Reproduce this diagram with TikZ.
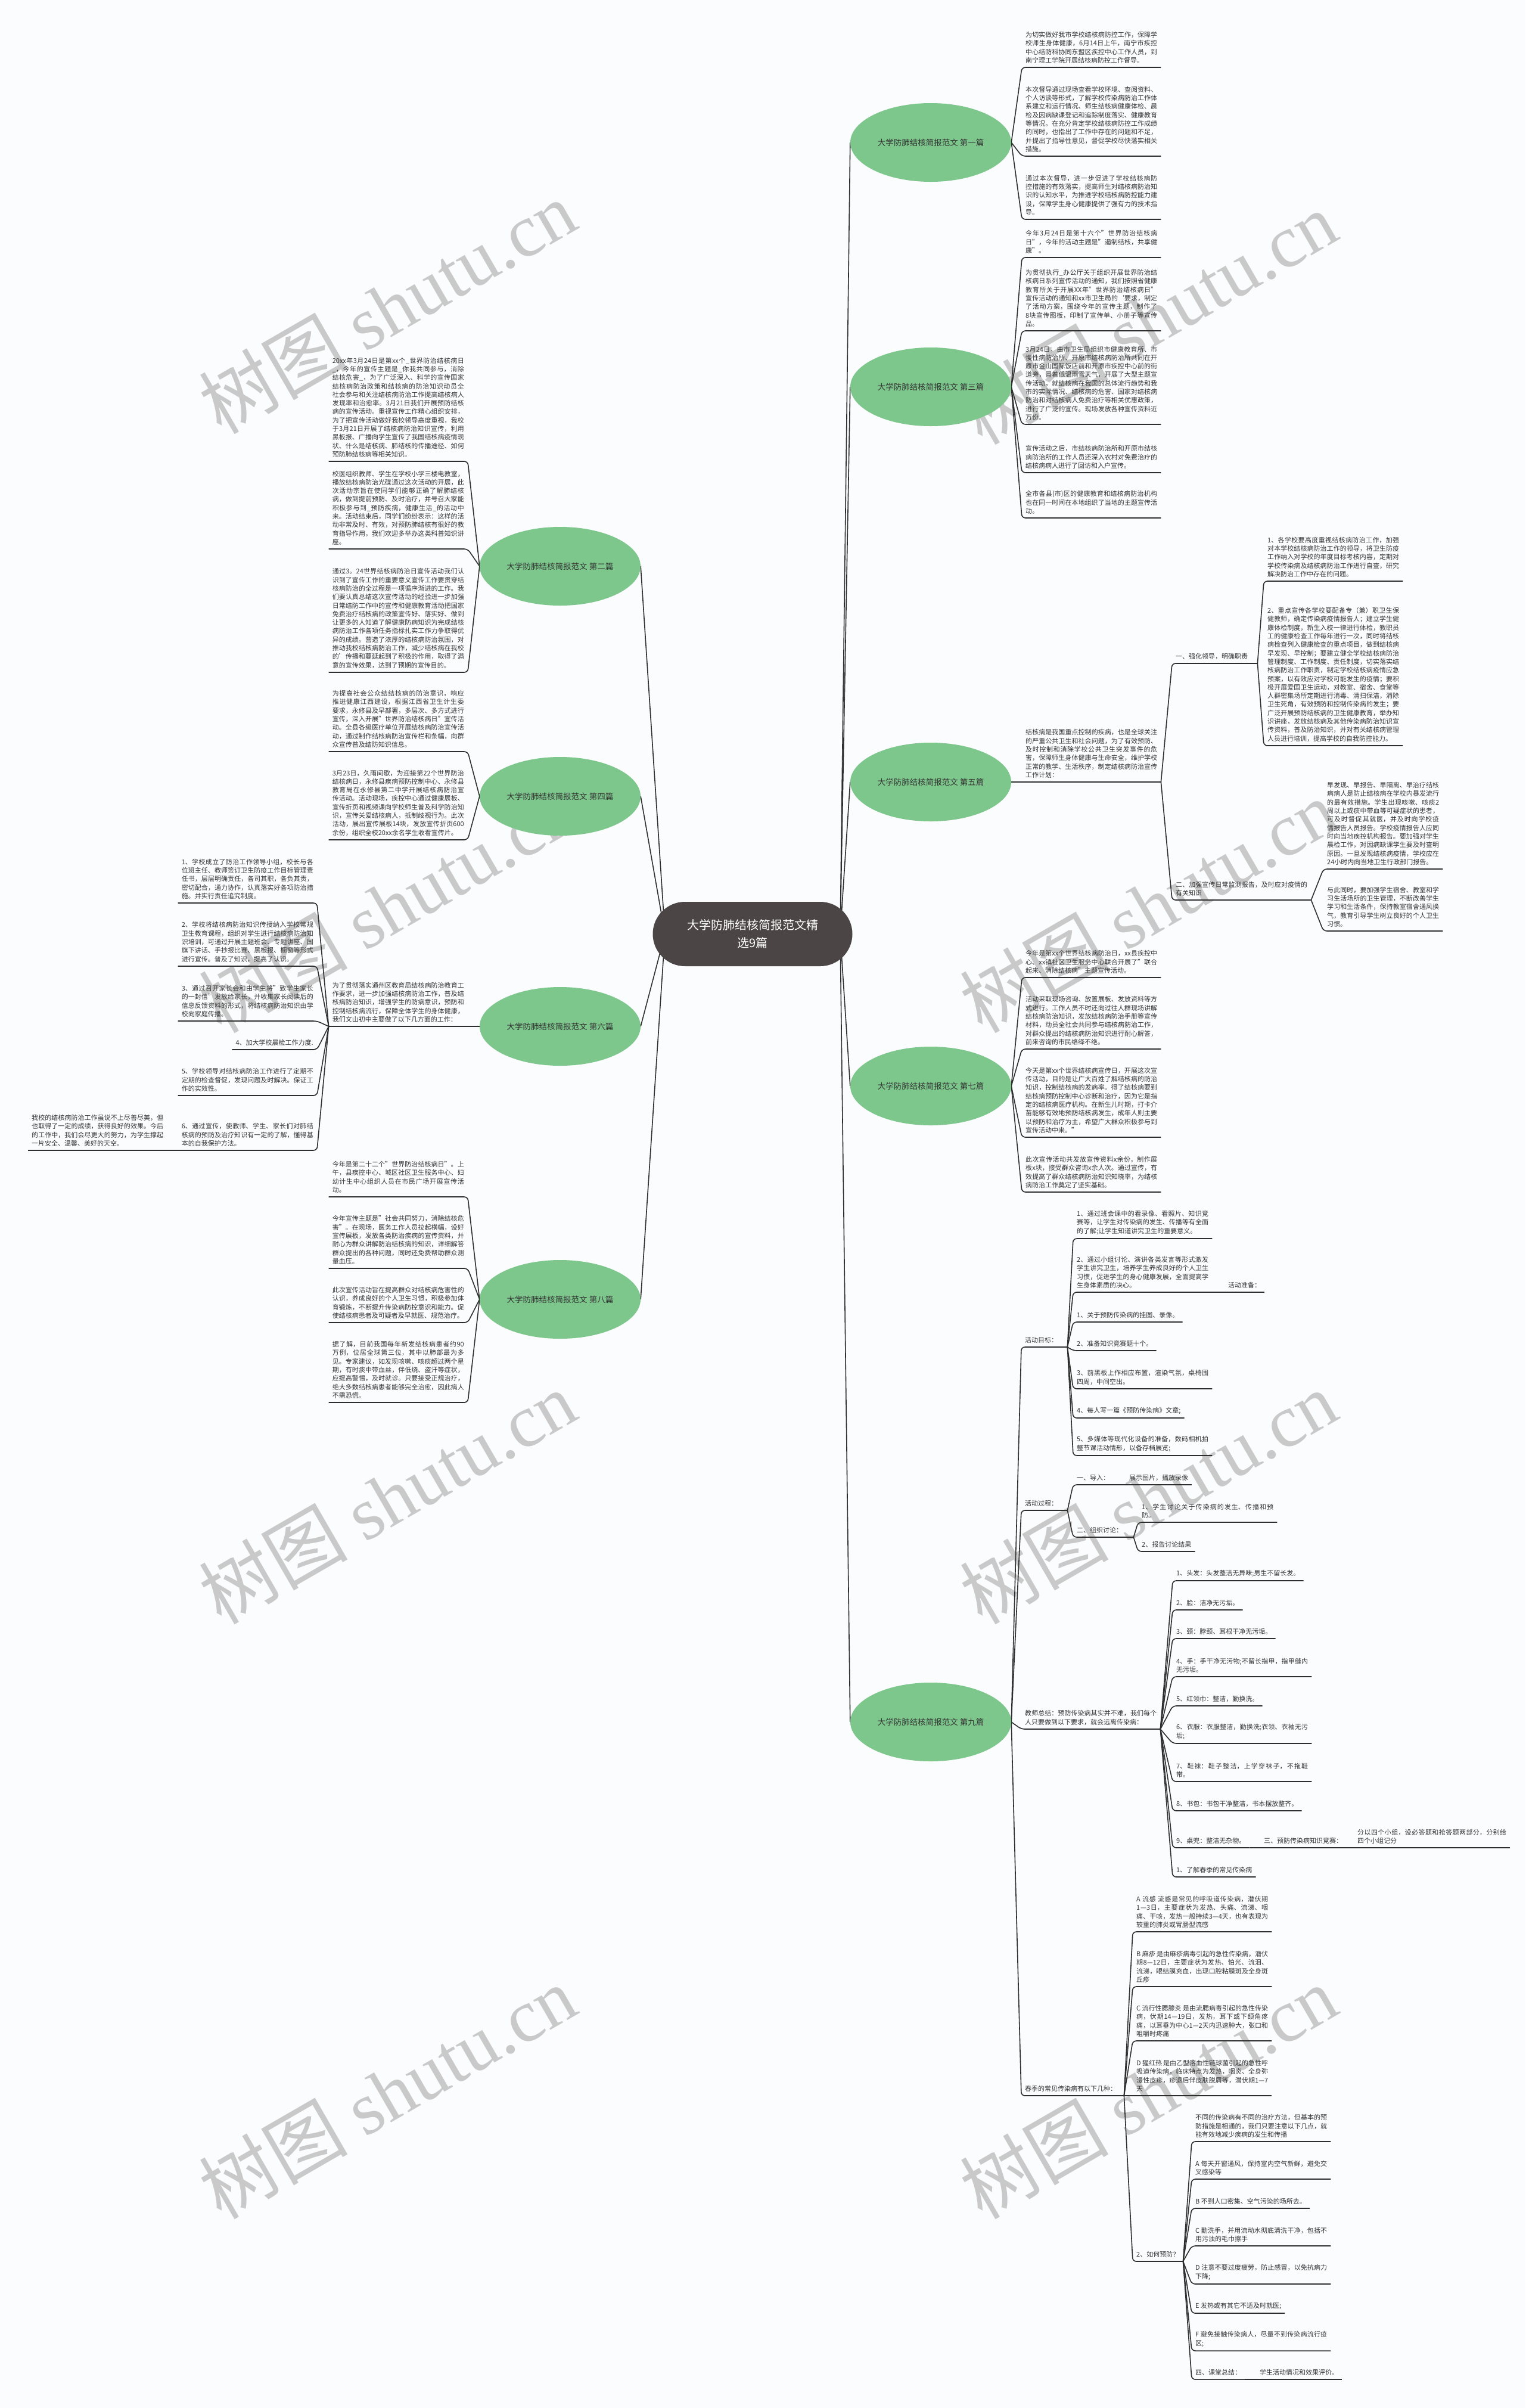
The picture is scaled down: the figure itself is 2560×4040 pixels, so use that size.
\documentclass[tikz,border=0pt]{standalone}
\usepackage{fontspec}
\setmainfont{Noto Sans CJK SC}
\newfontfamily\markSerif{Liberation Serif}
\usetikzlibrary{shapes.geometric, backgrounds}
\XeTeXlinebreaklocale "zh"
\XeTeXlinebreakskip=0pt plus 1pt
\definecolor{pageBg}{HTML}{FAFCFD}
\definecolor{rootFill}{HTML}{4B4545}
\definecolor{branchFill}{HTML}{7DC78C}
\definecolor{lineGray}{HTML}{2E2E2E}
\definecolor{textGray}{HTML}{333333}
\definecolor{markGray}{HTML}{C9C9C9}
\newcommand{\leafFont}{\fontsize{11pt}{14.3pt}\selectfont}
\tikzset{
  rootNode/.style={
    rectangle,
    rounded corners=54pt,
    fill=rootFill,
    minimum width=335pt,
    minimum height=108pt,
    align=center,
    text=white,
    font=\fontsize{20pt}{30pt}\selectfont
  },
  branchNode/.style={
    ellipse,
    fill=branchFill,
    minimum width=270pt,
    minimum height=132pt,
    inner sep=0pt,
    text=textGray,
    font=\fontsize{13.5pt}{16pt}\selectfont
  },
  leafText/.style={
    text width=221pt,
    align=justify,
    inner xsep=6pt,
    inner ysep=6.5pt,
    text=textGray,
    font=\leafFont
  },
  shortText/.style={
    inner xsep=6pt,
    inner ysep=6.5pt,
    text=textGray,
    font=\leafFont
  },
  link/.style={
    draw=lineGray,
    line width=1.6pt,
    rounded corners=6pt
  },
  markText/.style={
    text=markGray,
    rotate=30,
    font=\fontsize{125pt}{125pt}\selectfont
  }
}

\begin{document}
\begin{tikzpicture}[x=1pt, y=-1pt]
  \useasboundingbox (0,0) rectangle (2560,4040);
  % centre and the nine branches
  \node[rootNode] (root) at (1263,1567) {大学防肺结核简报范文精\\选9篇};
  \coordinate (rootR) at (1410,1567);
  \coordinate (rootL) at (1116,1567);
  \node[branchNode] (b1) at (1562,239) {大学防肺结核简报范文 第一篇};
  \node[branchNode] (b3) at (1562,649) {大学防肺结核简报范文 第三篇};
  \node[branchNode] (b5) at (1562,1312) {大学防肺结核简报范文 第五篇};
  \node[branchNode] (b7) at (1562,1822) {大学防肺结核简报范文 第七篇};
  \node[branchNode] (b9) at (1562,2889) {大学防肺结核简报范文 第九篇};
  \node[branchNode] (b2) at (940,950) {大学防肺结核简报范文 第二篇};
  \node[branchNode] (b4) at (940,1336) {大学防肺结核简报范文 第四篇};
  \node[branchNode] (b6) at (940,1722) {大学防肺结核简报范文 第六篇};
  \node[branchNode] (b8) at (940,2180) {大学防肺结核简报范文 第八篇};

  % first
  \node[leafText, anchor=south west] (p1t1) at (1715,113) {为切实做好我市学校结核病防控工作，保障学校师生身体健康，6月14日上午，南宁市疾控中心结防科协同东盟区疾控中心工作人员，到南宁理工学院开展结核病防控工作督导。};
  \node[leafText, anchor=south west] (p1t2) at (1715,262) {本次督导通过现场查看学校环境、查阅资料、个人访谈等形式，了解学校传染病防治工作体系建立和运行情况、师生结核病健康体检、晨检及因病缺课登记和追踪制度落实、健康教育等情况。在充分肯定学校结核病防控工作成绩的同时，也指出了工作中存在的问题和不足，并提出了指导性意见，督促学校尽快落实相关措施。};
  \node[leafText, anchor=south west] (p1t3) at (1715,368) {通过本次督导，进一步促进了学校结核病防控措施的有效落实，提高师生对结核病防治知识的认知水平，为推进学校结核病防控能力建设，保障学生身心健康提供了强有力的技术指导。};

  % third
  \node[leafText, anchor=south west] (p3t1) at (1715,432) {今年3月24日是第十六个"世界防治结核病日"，今年的活动主题是"遏制结核，共享健康"。};
  \node[leafText, anchor=south west] (p3t2) at (1715,555) {为贯彻执行\_办公厅关于组织开展世界防治结核病日系列宣传活动的通知，我们按照省健康教育所关于开展XX年"世界防治结核病日"宣传活动的通知和xx市卫生局的`要求，制定了活动方案，围绕今年的宣传主题，制作了8块宣传图板，印制了宣传单、小册子等宣传品。};
  \node[leafText, anchor=south west] (p3t3) at (1715,712) {3月24日，由市卫生局组织市健康教育所、市慢性病防治所、开原市结核病防治所共同在开原市金山国际饭店前和开原市疾控中心前的街道旁，冒着低温雨雪天气，开展了大型主题宣传活动，就结核病在我国的总体流行趋势和我市的实际情况、结核病的危害、国家对结核病防治和对结核病人免费治疗等相关优惠政策，进行了广泛的宣传。现场发放各种宣传资料近万份。};
  \node[leafText, anchor=south west] (p3t4) at (1715,793) {宣传活动之后，市结核病防治所和开原市结核病防治所的工作人员还深入农村对免费治疗的结核病病人进行了回访和入户宣传。};
  \node[leafText, anchor=south west] (p3t5) at (1715,869) {全市各县(市)区的健康教育和结核病防治机构也在同一时间在本地组织了当地的主题宣传活动。};

  % fifth
  \node[leafText, anchor=south west] (p5t0) at (1715,1312) {结核病是我国重点控制的疾病，也是全球关注的严重公共卫生和社会问题，为了有效预防、及时控制和消除学校公共卫生突发事件的危害，保障师生身体健康与生命安全，维护学校正常的教学、生活秩序，制定结核病防治宣传工作计划：};
  \node[leafText, text width=131pt, anchor=south west] (p5s1) at (1967,1113) {一、强化领导，明确职责};
  \node[leafText, anchor=south west] (p5s1a) at (2121,975) {1、各学校要高度重视结核病防治工作，加强对本学校结核病防治工作的领导，将卫生防疫工作纳入对学校的年度目标考核内容，定期对学校传染病及结核病防治工作进行自查，研究解决防治工作中存在的问题。};
  \node[leafText, anchor=south west] (p5s1b) at (2121,1251) {2、重点宣传各学校要配备专（兼）职卫生保健教师，确定传染病疫情报告人；建立学生健康体检制度，新生入校一律进行体检，教职员工的健康检查工作每年进行一次，同时将结核病检查列入健康检查的重点项目，做到结核病早发现、早控制；要建立健全学校结核病防治管理制度、工作制度、责任制度，切实落实结核病防治工作职责，制定学校结核病疫情应急预案，以有效应对学校可能发生的疫情；要积极开展爱国卫生运动，对教室、宿舍、食堂等人群密集场所定期进行消毒、清扫保洁，消除卫生死角，有效预防和控制传染病的发生；要广泛开展预防结核病的卫生健康教育，举办知识讲座，发放结核病及其他传染病防治知识宣传资料，普及防治知识，并对有关结核病管理人员进行培训，提高学校的自我防控能力。};
  \node[leafText, anchor=south west] (p5s2) at (1967,1510) {二、加强宣传日常监测报告，及时应对疫情的有关知识};
  \node[leafText, text width=188pt, anchor=south west] (p5s2a) at (2221,1458) {早发现、早报告、早隔离、早治疗结核病病人是防止结核病在学校内暴发流行的最有效措施。学生出现咳嗽、咳痰2周以上或痰中带血等可疑症状的患者，可及时督促其就医，并及时向学校疫情报告人员报告。学校疫情报告人应同时向当地疾控机构报告。要加强对学生晨检工作，对因病缺课学生要及时查明原因。一旦发现结核病疫情，学校应在24小时内向当地卫生行政部门报告。};
  \node[leafText, text width=188pt, anchor=south west] (p5s2b) at (2221,1562) {与此同时，要加强学生宿舍、教室和学习生活场所的卫生管理，不断改善学生学习和生活条件，保持教室宿舍通风换气，教育引导学生树立良好的个人卫生习惯。};

  % seventh
  \node[leafText, anchor=south west] (p7t1) at (1715,1640) {今年是第xx个世界结核病防治日，xx县疾控中心、xx镇社区卫生服务中心联合开展了"联合起来、消除结核病"主题宣传活动。};
  \node[leafText, anchor=south west] (p7t2) at (1715,1760) {活动采取现场咨询、放置展板、发放资料等方式进行。工作人员不时还向过往人群现场讲解结核病防治知识，发放结核病防治手册等宣传材料，动员全社会共同参与结核病防治工作，对群众提出的结核病防治知识进行耐心解答，前来咨询的市民络绎不绝。};
  \node[leafText, anchor=south west] (p7t3) at (1715,1908) {今天是第xx个世界结核病宣传日，开展这次宣传活动，目的是让广大百姓了解结核病的防治知识，控制结核病的发病率。得了结核病要到结核病预防控制中心诊断和治疗，因为它是指定的结核病医疗机构。在新生儿时期，打卡介苗能够有效地预防结核病发生，成年人则主要以预防和治疗为主，希望广大群众积极参与到宣传活动中来。"};
  \node[leafText, anchor=south west] (p7t4) at (1715,2000) {此次宣传活动共发放宣传资料x余份，制作展板x块，接受群众咨询x余人次。通过宣传，有效提高了群众结核病防治知识知晓率，为结核病防治工作奠定了坚实基础。};

  % ninth
  \node[leafText, text width=65pt, anchor=south west] (p9g) at (1714,2260) {活动目标：};
  \node[leafText, anchor=south west] (p9g1) at (1801,2078) {1、通过班会课中的看录像、看照片、知识竞赛等，让学生对传染病的发生、传播等有全面的了解;让学生知道讲究卫生的重要意义。};
  \node[leafText, anchor=south west] (p9g2) at (1801,2168) {2、通过小组讨论、演讲各类发言等形式激发学生讲究卫生，培养学生养成良好的个人卫生习惯，促进学生的身心健康发展，全面提高学生身体素质的决心。};
  \node[shortText, anchor=south west] (p9prep) at (2055,2168) {活动准备：};
  \node[shortText, anchor=south west] (p9g3) at (1801,2218) {1、关于预防传染病的挂图、录像。};
  \node[shortText, anchor=south west] (p9g4) at (1801,2266) {2、准备知识竞赛题十个。};
  \node[leafText, anchor=south west] (p9g5) at (1801,2330) {3、前黑板上作相应布置，渲染气氛，桌椅围四周，中间空出。};
  \node[shortText, anchor=south west] (p9g6) at (1801,2379) {4、每人写一篇《预防传染病》文章;};
  \node[leafText, anchor=south west] (p9g7) at (1801,2442) {5、多媒体等现代化设备的准备，数码相机拍整节课活动情形，以备存档展览;};
  \node[leafText, text width=65pt, anchor=south west] (p9p) at (1714,2534) {活动过程：};
  \node[leafText, text width=76pt, anchor=south west] (p9p1) at (1801,2491) {一、导入：};
  \node[shortText, anchor=south west] (p9p1a) at (1889,2491) {展示图片，播放录像};
  \node[leafText, text width=89pt, anchor=south west] (p9p2) at (1801,2579) {二、组织讨论：};
  \node[leafText, anchor=south west] (p9p2a) at (1910,2554) {1、学生讨论关于传染病的发生、传播和预防。};
  \node[shortText, anchor=south west] (p9p2b) at (1910,2603) {2、报告讨论结果};
  \node[leafText, anchor=south west] (p9s) at (1714,2901) {教师总结：预防传染病其实并不难，我们每个人只要做到以下要求，就会远离传染病：};
  \node[shortText, anchor=south west] (p9s1) at (1968,2652) {1、头发：头发整洁无异味;男生不留长发。};
  \node[shortText, anchor=south west] (p9s2) at (1968,2701) {2、脸：洁净无污垢。};
  \node[shortText, anchor=south west] (p9s3) at (1968,2749) {3、颈：脖颈、耳根干净无污垢。};
  \node[leafText, anchor=south west] (p9s4) at (1968,2813) {4、手：手干净无污物;不留长指甲，指甲缝内无污垢。};
  \node[shortText, anchor=south west] (p9s5) at (1968,2862) {5、红领巾：整洁，勤换洗。};
  \node[leafText, anchor=south west] (p9s6) at (1968,2925) {6、衣服：衣服整洁，勤换洗;衣领、衣袖无污垢;};
  \node[leafText, anchor=south west] (p9s7) at (1968,2989) {7、鞋袜：鞋子整洁，上学穿袜子，不拖鞋带。};
  \node[shortText, anchor=south west] (p9s8) at (1968,3038) {8、书包：书包干净整洁，书本摆放整齐。};
  \node[shortText, anchor=south west] (p9s9) at (1968,3100) {9、桌兜：整洁无杂物。};
  \node[shortText, anchor=south west] (p9q) at (2115,3100) {三、预防传染病知识竞赛：};
  \node[leafText, text width=250pt, anchor=south west] (p9qa) at (2272,3100) {分以四个小组，设必答题和抢答题两部分，分别给四个小组记分};
  \node[shortText, anchor=south west] (p9s10) at (1968,3149) {1、了解春季的常见传染病};
  \node[leafText, text width=160pt, anchor=south west] (p9c) at (1714,3516) {春季的常见传染病有以下几种：};
  \node[leafText, anchor=south west] (p9cA) at (1901,3241) {A 流感 流感是常见的呼吸道传染病，潜伏期1—3日，主要症状为发热、头痛、流涕、咽痛、干咳，发热一般持续3—4天，也有表现为较重的肺炎或胃肠型流感};
  \node[leafText, anchor=south west] (p9cB) at (1901,3333) {B 麻疹 是由麻疹病毒引起的急性传染病，潜伏期8—12日，主要症状为发热、怕光、流泪、流涕，眼结膜充血，出现口腔粘膜斑及全身斑丘疹};
  \node[leafText, anchor=south west] (p9cC) at (1901,3424) {C 流行性腮腺炎 是由流腮病毒引起的急性传染病，伏期14—19日，发热，耳下或下颌角疼痛，以耳垂为中心1—2天内迅速肿大，张口和咀嚼时疼痛};
  \node[leafText, anchor=south west] (p9cD) at (1901,3516) {D 猩红热 是由乙型溶血性链球菌引起的急性呼吸道传染病，临床特点为发热，咽炎、全身弥漫性皮疹，疹退后伴皮肤脱屑等，潜伏期1—7天};
  \node[shortText, anchor=south west] (p9h) at (1901,3794) {2、如何预防？};
  \node[leafText, anchor=south west] (p9h0) at (2000,3593) {不同的传染病有不同的治疗方法，但基本的预防措施是相通的，我们只要注意以下几点，就能有效地减少疾病的发生和传播};
  \node[leafText, anchor=south west] (p9h1) at (2000,3656) {A 每天开窗通风，保持室内空气新鲜，避免交叉感染等};
  \node[shortText, anchor=south west] (p9h2) at (2000,3705) {B 不到人口密集、空气污染的场所去。};
  \node[leafText, anchor=south west] (p9h3) at (2000,3768) {C 勤洗手，并用流动水彻底清洗干净，包括不用污浊的毛巾擦手};
  \node[leafText, anchor=south west] (p9h4) at (2000,3832) {D 注意不要过度疲劳，防止感冒，以免抗病力下降;};
  \node[shortText, anchor=south west] (p9h5) at (2000,3881) {E 发热或有其它不适及时就医;};
  \node[leafText, anchor=south west] (p9h6) at (2000,3944) {F 避免接触传染病人，尽量不到传染病流行疫区;};
  \node[shortText, anchor=south west] (p9h7) at (2000,3992) {四、课堂总结：};
  \node[shortText, anchor=south west] (p9h7a) at (2108,3992) {学生活动情况和效果评价。};

  % second
  \node[leafText, anchor=south east] (p2t1) at (785,774) {20xx年3月24日是第xx个\_世界防治结核病日\_，今年的宣传主题是\_你我共同参与，消除结核危害\_，为了广泛深入、科学的宣传国家结核病防治政策和结核病的防治知识动员全社会参与和关注结核病防治工作提高结核病人发现率和治愈率。3月21日我们开展预防结核病的宣传活动。重视宣传工作精心组织安排，为了把宣传活动做好我校领导高度重视，我校于3月21日开展了结核病防治知识宣传，利用黑板报、广播向学生宣传了我国结核病疫情现状、什么是结核病、肺结核的传播途径、如何预防肺结核病等相关知识。};
  \node[leafText, anchor=south east] (p2t2) at (785,921) {校医组织教师、学生在学校小学三楼电教室，播放结核病防治光碟通过这次活动的开展，此次活动宗旨在使同学们能够正确了解肺结核病，做到提前预防、及时治疗，并号召大家能积极参与到\_预防疾病，健康生活\_的活动中来。活动结束后，同学们纷纷表示：这样的活动非常及时、有效，对预防肺结核有很好的教育指导作用，我们欢迎多举办这类科普知识讲座。};
  \node[leafText, anchor=south east] (p2t3) at (785,1128) {通过3。24世界结核病防治日宣传活动我们认识到了宣传工作的重要意义宣传工作要贯穿结核病防治的全过程是一项循序渐进的工作。我们要认真总结这次宣传活动的经验进一步加强日常结防工作中的宣传和健康教育活动把国家免费治疗结核病的政策宣传好、落实好、做到让更多的人知道了解健康防病知识为完成结核病防治工作各项任务指标扎实工作力争取得优异的成绩。营造了浓厚的结核病防治氛围，对推动我校结核病防治工作，减少结核病在我校的'传播和蔓延起到了积极的作用，取得了满意的宣传效果，达到了预期的宣传目的。};

  % fourth
  \node[leafText, anchor=south east] (p4t1) at (785,1261) {为提高社会公众结结核病的防治意识，响应推进健康江西建设，根据江西省卫生计生委要求，永修县及早部署，多层次、多方式进行宣传，深入开展"世界防治结核病日"宣传活动。全县各级医疗单位开展结核病防治宣传活动，通过制作结核病防治宣传栏和条幅，向群众宣传普及结防知识信息。};
  \node[leafText, anchor=south east] (p4t2) at (785,1409) {3月23日，久雨间歇，为迎接第22个世界防治结核病日，永修县疾病预防控制中心、永修县教育局在永修县第二中学开展结核病防治宣传活动。活动现场，疾控中心通过健康展板、宣传折页和视频课向学校师生普及科学防治知识，宣传关爱结核病人，抵制歧视行为。此次活动，展出宣传展板14块，发放宣传折页600余份，组织全校20xx余名学生收看宣传片。};

  % sixth
  \node[leafText, anchor=south east] (p6t0) at (785,1722) {为了贯彻落实通州区教育局结核病防治教育工作要求，进一步加强结核病防治工作，普及结核病防治知识，增强学生的防病意识，预防和控制结核病流行，保障全体学生的身体健康，我们文山初中主要做了以下几方面的工作：};
  \node[leafText, anchor=south east] (p6t1) at (532,1515) {1、学校成立了防治工作领导小组，校长与各位班主任、教师签订卫生防疫工作目标管理责任书，层层明确责任，各司其职，各负其责，密切配合，通力协作，认真落实好各项防治措施。并实行责任追究制度。};
  \node[leafText, anchor=south east] (p6t2) at (532,1621) {2、学校将结核病防治知识传授纳入学校常规卫生教育课程，组织对学生进行结核病防治知识培训，可通过开展主题班会、专题讲座、国旗下讲话、手抄报比赛、黑板报、橱窗等形式进行宣传。普及了知识，提高了认识。};
  \node[leafText, anchor=south east] (p6t3) at (532,1713) {3、通过召开家长会和由学生将"致学生家长的一封信"发放给家长，并收集家长阅读后的信息反馈资料的形式，将结核病防治知识由学校向家庭传播。};
  \node[shortText, anchor=south east] (p6t4) at (532,1761) {4、加大学校晨检工作力度.};
  \node[leafText, anchor=south east] (p6t5) at (532,1838) {5、学校领导对结核病防治工作进行了定期不定期的检查督促，发现问题及时解决。保证工作的实效性。};
  \node[leafText, anchor=south east] (p6t6) at (532,1930) {6、通过宣传，使教师、学生、家长们对肺结核病的预防及治疗知识有一定的了解，懂得基本的自我保护方法。};
  \node[leafText, anchor=south west] (p6t7) at (47,1930) {我校的结核病防治工作虽说不上尽善尽美，但也取得了一定的成绩，获得良好的效果。今后的工作中，我们会尽更大的努力，为学生撑起一片安全、温馨、美好的天空。};

  % eighth
  \node[leafText, anchor=south east] (p8t1) at (785,2008) {今年是第二十二个"世界防治结核病日"。上午，县疾控中心、城区社区卫生服务中心、妇幼计生中心组织人员在市民广场开展宣传活动。};
  \node[leafText, anchor=south east] (p8t2) at (785,2128) {今年宣传主题是"社会共同努力，消除结核危害"。在现场，医务工作人员拉起横幅，设好宣传展板，发放各类防治疾病的宣传资料，并耐心为群众讲解防治结核病的知识，详细解答群众提出的各种问题，同时还免费帮助群众测量血压。};
  \node[leafText, anchor=south east] (p8t3) at (785,2219) {此次宣传活动旨在提高群众对结核病危害性的认识，养成良好的个人卫生习惯，积极参加体育锻炼，不断提升传染病防控意识和能力。促使结核病患者及可疑者及早就医、规范治疗。};
  \node[leafText, anchor=south east] (p8t4) at (785,2353) {据了解，目前我国每年新发结核病患者约90万例，位居全球第三位，其中以肺部最为多见。专家建议，如发现咳嗽、咳痰超过两个星期，有时痰中带血丝，伴低烧、盗汗等症状，应提高警惕，及时就诊。只要接受正规治疗，绝大多数结核病患者能够完全治愈，因此病人不需恐慌。};

  \begin{scope}[on background layer]
    \fill[pageBg] (0,0) rectangle (2560,4040);
    % watermark
    \node[markText] (wm1) at (650,515) {树图 {\markSerif shutu.cn}};
    \node[markText] (wm2) at (1927,533) {树图 {\markSerif shutu.cn}};
    \node[markText] (wm3) at (650,1520) {树图 {\markSerif shutu.cn}};
    \node[markText] (wm4) at (1927,1520) {树图 {\markSerif shutu.cn}};
    \node[markText] (wm5) at (650,2512) {树图 {\markSerif shutu.cn}};
    \node[markText] (wm6) at (1927,2512) {树图 {\markSerif shutu.cn}};
    \node[markText] (wm7) at (650,3510) {树图 {\markSerif shutu.cn}};
    \node[markText] (wm8) at (1927,3510) {树图 {\markSerif shutu.cn}};

    % centre to branches
    \foreach \b in {b1,b3,b5,b7,b9}
      \draw[link] (rootR) -- (\b.west);
    \foreach \b in {b2,b4,b6,b8}
      \draw[link] (rootL) -- (\b.east);

    % right side texts
    \foreach \b/\t in {b1/p1t1,b1/p1t2,b1/p1t3,b3/p3t1,b3/p3t2,b3/p3t3,b3/p3t4,b3/p3t5,
                       b5/p5t0,b7/p7t1,b7/p7t2,b7/p7t3,b7/p7t4,b9/p9g,b9/p9p,b9/p9s,b9/p9c}
      \draw[link] (\b.east) -- (\t.south west) -- (\t.south east);
    \foreach \a/\t in {p5t0/p5s1,p5t0/p5s2,p5s1/p5s1a,p5s1/p5s1b,p5s2/p5s2a,p5s2/p5s2b,
                       p9g/p9g1,p9g/p9g2,p9g/p9g3,p9g/p9g4,p9g/p9g5,p9g/p9g6,p9g/p9g7,p9g2/p9prep,
                       p9p/p9p1,p9p/p9p2,p9p1/p9p1a,p9p2/p9p2a,p9p2/p9p2b,
                       p9s/p9s1,p9s/p9s2,p9s/p9s3,p9s/p9s4,p9s/p9s5,p9s/p9s6,p9s/p9s7,p9s/p9s8,
                       p9s/p9s9,p9s/p9s10,p9s9/p9q,p9q/p9qa,
                       p9c/p9cA,p9c/p9cB,p9c/p9cC,p9c/p9cD,p9c/p9h,
                       p9h/p9h0,p9h/p9h1,p9h/p9h2,p9h/p9h3,p9h/p9h4,p9h/p9h5,p9h/p9h6,p9h/p9h7,p9h7/p9h7a}
      \draw[link] (\a.south east) -- (\t.south west) -- (\t.south east);

    % left side texts
    \foreach \b/\t in {b2/p2t1,b2/p2t2,b2/p2t3,b4/p4t1,b4/p4t2,b6/p6t0,
                       b8/p8t1,b8/p8t2,b8/p8t3,b8/p8t4}
      \draw[link] (\b.west) -- (\t.south east) -- (\t.south west);
    \foreach \a/\t in {p6t0/p6t1,p6t0/p6t2,p6t0/p6t3,p6t0/p6t4,p6t0/p6t5,p6t0/p6t6,p6t6/p6t7}
      \draw[link] (\a.south west) -- (\t.south east) -- (\t.south west);
  \end{scope}
\end{tikzpicture}
\end{document}
